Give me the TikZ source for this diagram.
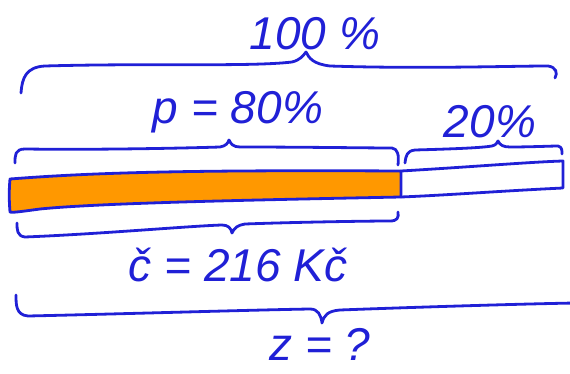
\documentclass[tikz,border=0pt]{standalone}
\usepackage{fontspec}
\setmainfont{Liberation Sans}
\definecolor{penblue}{RGB}{32,32,214}
\definecolor{barorange}{RGB}{255,152,0}
\begin{document}
\begin{tikzpicture}[x=1pt,y=-1pt,
  hand/.style={draw=penblue,line width=2.8pt,line cap=round,line join=round},
  lbl/.style={text=penblue,font=\fontsize{46}{50}\selectfont\itshape,anchor=base,inner sep=0pt}]
\useasboundingbox (0,0) rectangle (570,374);
% top brace (100 %)
\draw[hand] (21,93) .. controls (22,78) and (26,67) .. (45,66) .. controls (150,63) and (250,67) .. (292,62) .. controls (300,60) and (303,56) .. (306,52) .. controls (309,58) and (313,64) .. (330,66) .. controls (420,69) and (510,66) .. (548,66) .. controls (556,67) and (558,73) .. (555,78);
% brace over orange part
\draw[hand] (15,163) .. controls (15,155) and (15,149) .. (25,149) .. controls (100,150) and (190,148) .. (220,147) .. controls (226,146) and (228,143) .. (229,140) .. controls (231,144) and (233,147) .. (240,147) .. controls (300,147) and (370,148) .. (392,148) .. controls (398,149) and (399,155) .. (398,165);
% brace over white part
\draw[hand] (405,163) .. controls (406,155) and (407,151) .. (415,150) .. controls (450,149) and (480,148) .. (492,146) .. controls (496,145) and (497,143) .. (498,141) .. controls (500,145) and (503,147) .. (510,147) .. controls (530,147) and (552,146) .. (558,146) .. controls (562,147) and (562,150) .. (562,154);
% bar
\filldraw[hand,fill=barorange] (10,179) .. controls (100,172) and (200,170) .. (401,171) -- (401,197) .. controls (250,200) and (100,203) .. (40,209) .. controls (25,211) and (12,213) .. (10,212) .. controls (9,200) and (9,190) .. (10,179) -- cycle;
\draw[hand] (401,171) .. controls (470,167) and (530,162) .. (563,161) -- (563,188) .. controls (500,191) and (450,195) .. (401,197);
% brace under orange part
\draw[hand] (17,223) .. controls (17,230) and (17,236) .. (25,237) .. controls (100,234) and (190,226) .. (222,225) .. controls (228,225) and (231,228) .. (232,233) .. controls (234,228) and (238,225) .. (245,224) .. controls (300,222) and (370,221) .. (390,221) .. controls (397,221) and (399,218) .. (398,212);
% bottom brace
\draw[hand] (16,295) .. controls (16,305) and (16,315) .. (28,316) .. controls (120,314) and (250,310) .. (310,309) .. controls (318,309) and (321,315) .. (322,323) .. controls (324,315) and (328,311) .. (340,310) .. controls (420,307) and (520,304) .. (575,303);
% labels
\node[lbl] (t100) at (315,50) {100 \%};
\node[lbl] (t80) at (238,124) {p = 80\%};
\node[lbl] (t20) at (490,138) {20\%};
\node[lbl] (tc) at (238,281) {č = 216 Kč};
\node[lbl] (tz) at (320,360) {z = ?};
\end{tikzpicture}
\end{document}
